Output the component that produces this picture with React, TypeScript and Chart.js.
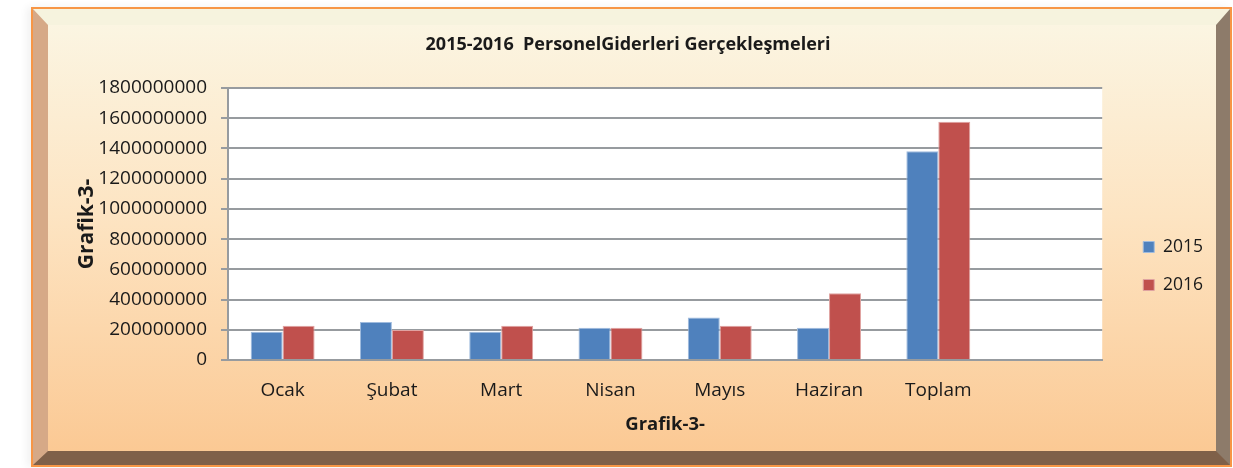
import React, { useEffect, useRef } from 'react';
import { Chart, registerables } from 'chart.js';

Chart.register(...registerables);

const categories = ['Ocak', 'Şubat', 'Mart', 'Nisan', 'Mayıs', 'Haziran', 'Toplam', ''];
const seriesNames = ['2015', '2016'];
const values2015 = [187000000, 252000000, 187000000, 213000000, 282000000, 214000000, 1381000000, null];
const values2016 = [226000000, 199000000, 226000000, 213000000, 227000000, 441000000, 1577000000, null];
const yMin = 0;
const yMax = 1800000000;
const yStep = 200000000;
const chartTitle = '2015-2016  PersonelGiderleri Gerçekleşmeleri';
const axisTitle = 'Grafik-3-';

const FONT = "'Open Sans', 'Noto Sans', sans-serif";

const plotBg = {
  id: 'plotBg',
  beforeDraw(chart: any) {
    const { ctx, chartArea } = chart;
    if (!chartArea) return;
    ctx.save();
    ctx.fillStyle = '#ffffff';
    ctx.fillRect(chartArea.left, chartArea.top, chartArea.right - chartArea.left, chartArea.bottom - chartArea.top);
    ctx.restore();
  },
};

export default function App() {
  const ref = useRef<HTMLCanvasElement | null>(null);

  useEffect(() => {
    if (!ref.current) return;
    const chart = new Chart(ref.current, {
      type: 'bar',
      data: {
        labels: categories,
        datasets: [
          {
            label: seriesNames[0],
            data: values2015 as any,
            backgroundColor: '#4f81bd',
            borderColor: '#9fbbde',
            borderWidth: 1,
            categoryPercentage: 0.585,
            barPercentage: 1,
          },
          {
            label: seriesNames[1],
            data: values2016 as any,
            backgroundColor: '#c0504d',
            borderColor: '#e0a3a1',
            borderWidth: 1,
            categoryPercentage: 0.585,
            barPercentage: 1,
          },
        ],
      },
      options: {
        responsive: false,
        animation: false,
        devicePixelRatio: 1,
        layout: { padding: { left: 43, right: 20, top: 0, bottom: 32 } },
        plugins: {
          title: {
            display: true,
            text: chartTitle,
            color: '#1a1a1a',
            font: { family: FONT, size: 18, weight: 'bold' },
            padding: { top: 34, bottom: 32.4 },
          },
          legend: {
            display: true,
            position: 'right',
            align: 'center',
            title: {
              display: true,
              text: ' ',
              color: 'rgba(0,0,0,0)',
              font: { family: FONT, size: 10 },
              padding: { top: 0, bottom: 84 },
            },
            labels: {
              boxWidth: 11,
              boxHeight: 11,
              padding: 20.5,
              color: '#1a1a1a',
              font: { family: FONT, size: 17.5 },
            },
          },
          tooltip: { enabled: false },
        },
        scales: {
          x: {
            grid: { display: false, drawTicks: false },
            border: { display: true, color: '#979b9f', width: 2 },
            ticks: { color: '#1a1a1a', font: { family: FONT, size: 19 }, padding: 19, maxRotation: 0, autoSkip: false },
            title: {
              display: true,
              text: axisTitle,
              color: '#1a1a1a',
              font: { family: FONT, size: 18.5, weight: 'bold' },
              padding: { top: 0, bottom: 0 },
            },
            afterFit: (s: any) => {
              s.height = 76;
            },
          },
          y: {
            min: yMin,
            max: yMax,
            grid: { color: '#979b9f', lineWidth: 2, drawTicks: true, tickLength: 7 },
            border: { display: true, color: '#979b9f', width: 2 },
            ticks: {
              stepSize: yStep,
              color: '#1a1a1a',
              font: { family: FONT, size: 19 },
              padding: 14,
              callback: (v: any) => String(v),
            },
            title: {
              display: true,
              text: axisTitle,
              color: '#1a1a1a',
              font: { family: FONT, size: 21, weight: 'bold' },
              padding: { top: 31.5, bottom: 0 },
            },
            afterFit: (s: any) => {
              s.width = 185;
            },
          },
          ySpacer: {
            position: 'right',
            display: true,
            grid: { display: false, drawTicks: false },
            border: { display: false },
            ticks: { display: false },
            afterFit: (s: any) => {
              s.width = 20.5;
            },
          } as any,
        },
      },
      plugins: [plotBg],
    } as any);
    return () => chart.destroy();
  }, []);

  return (
    <div style={{ position: 'absolute', left: 0, top: 0, width: 1233, height: 468, overflow: 'hidden', background: '#ffffff' }}>
      <div
        style={{
          position: 'absolute',
          left: 31,
          top: 7,
          width: 1201,
          height: 460,
          boxSizing: 'border-box',
          border: '2px solid #f79646',
          boxShadow: '-4px 0 8px rgba(0,0,0,0.06)',
        }}
      >
        <div
          style={{
            position: 'absolute',
            left: 0,
            top: 0,
            right: 0,
            bottom: 0,
            boxSizing: 'border-box',
            borderStyle: 'solid',
            borderLeftWidth: 15,
            borderTopWidth: 16,
            borderRightWidth: 14,
            borderBottomWidth: 14,
            borderLeftColor: '#d6a987',
            borderTopColor: '#f6f3de',
            borderRightColor: '#8d7b6a',
            borderBottomColor: '#7f6049',
            background: 'linear-gradient(to bottom, #fbf5e2 0%, #fde4c2 45%, #fbc994 100%)',
          }}
        />
      </div>
      <canvas ref={ref} width={1233} height={468} style={{ position: 'absolute', left: 0, top: 0, width: 1233, height: 468 }} />
    </div>
  );
}
